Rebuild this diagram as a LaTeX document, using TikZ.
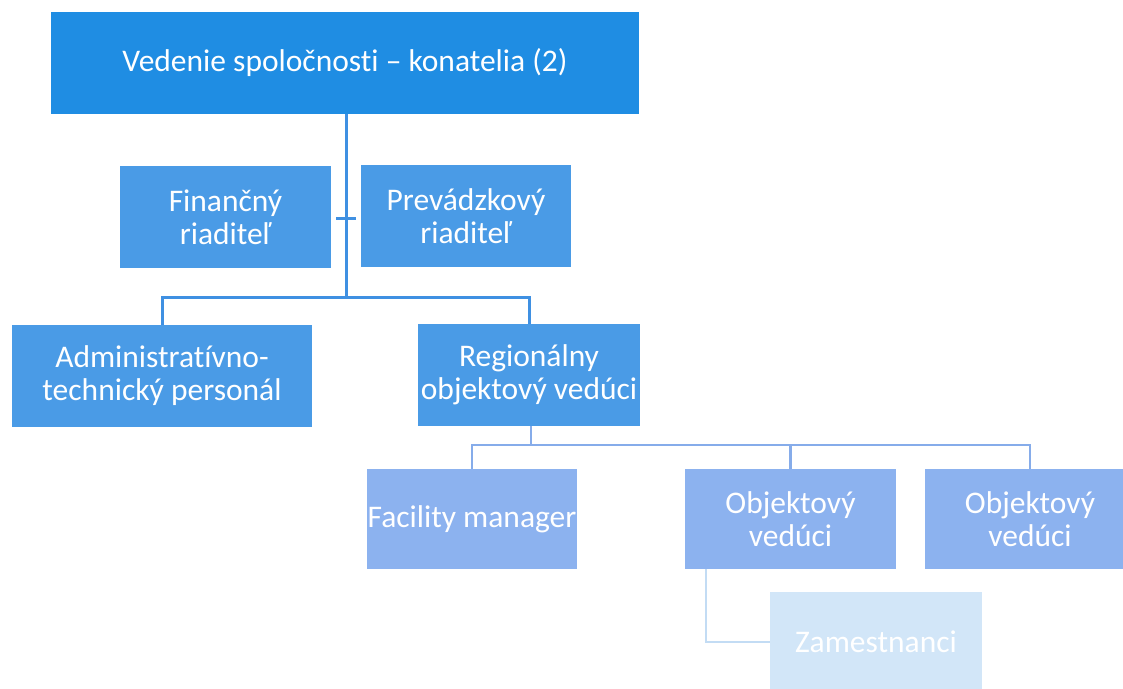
\documentclass[tikz,border=0pt]{standalone}
\usepackage{fontspec}
\setmainfont{Carlito}[Ligatures=NoCommon]
\definecolor{cTop}{HTML}{1F8DE3}
\definecolor{cMid}{HTML}{4A9BE6}
\definecolor{cLow}{HTML}{8CB2EF}
\definecolor{cPale}{HTML}{D2E6F8}
\definecolor{lTop}{HTML}{3F90E2}
\definecolor{lLow}{HTML}{86ACEA}
\definecolor{lPale}{HTML}{C3DCF4}
\begin{document}
\begin{tikzpicture}[x=1pt,y=-1pt,
  box/.style={rectangle, inner sep=0pt, text=white, align=center,
    font=\fontsize{31.5}{33}\selectfont},
  toplink/.style={draw=lTop, line width=3pt},
  lowlink/.style={draw=lLow, line width=2.5pt},
  palelink/.style={draw=lPale, line width=2pt}]
\useasboundingbox (0,0) rectangle (1123,688);
\fill[white] (0,0) rectangle (1123,688);
\node[box, fill=cTop, minimum width=588pt, minimum height=102pt] (top) at (345,63) {Vedenie spoločnosti – konatelia (2)};
\node[box, fill=cMid, minimum width=211pt, minimum height=102pt] (fin) at (225.5,217) {Finančný\\riaditeľ};
\node[box, fill=cMid, minimum width=210pt, minimum height=102pt] (prev) at (466,216) {Prevádzkový\\riaditeľ};
\node[box, fill=cMid, minimum width=300pt, minimum height=102pt] (adm) at (162,376) {Administratívno-\\technický personál};
\node[box, fill=cMid, minimum width=222pt, minimum height=102pt] (reg) at (529,375) {Regionálny\\objektový vedúci};
\node[box, fill=cLow, minimum width=210pt, minimum height=100pt] (fac) at (472,519) {Facility manager};
\node[box, fill=cLow, minimum width=211pt, minimum height=100pt] (ov1) at (790.5,519) {Objektový\\vedúci};
\node[box, fill=cLow, minimum width=210pt, minimum height=100pt] (ov2) at (1030,519) {Objektový\\vedúci};
\node[box, fill=cPale, minimum width=212pt, minimum height=100pt] (zam) at (876,642) {Zamestnanci};
\coordinate (b1) at (346,297);
\coordinate (t1) at (346,218);
\coordinate (b2) at (531,445);
\draw[toplink] (top.south -| b1) -- (b1);
\draw[toplink] ([xshift=-10pt]t1) -- ([xshift=10pt]t1);
\draw[toplink] (adm.north) |- (b1) -| (reg.north);
\draw[lowlink] (reg.south -| b2) -- (b2);
\draw[lowlink] (fac.north) |- (b2) -| (ov2.north);
\draw[lowlink] (ov1.north) -- (ov1.north |- b2);
\draw[palelink] ([xshift=21pt]ov1.south west) |- (zam.west);
\end{tikzpicture}
\end{document}
